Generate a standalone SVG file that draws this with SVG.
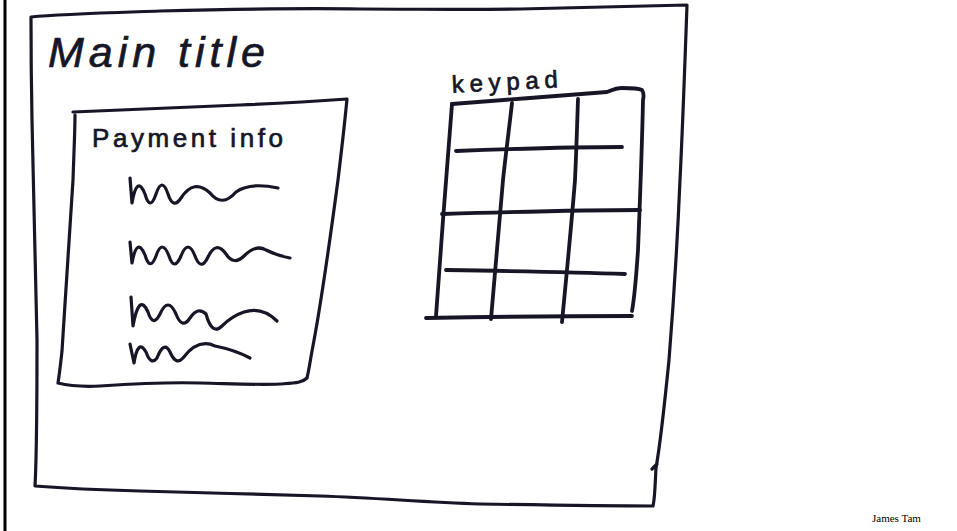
<svg xmlns="http://www.w3.org/2000/svg" width="957" height="531" viewBox="0 0 957 531">
<style>
.ink{fill:none;stroke:#161627;stroke-width:3.2;stroke-linecap:round;stroke-linejoin:round}
.thick{stroke-width:3.8}
.hand{font-family:"Liberation Sans","DejaVu Sans",sans-serif;fill:#161627;stroke:#161627;stroke-width:0.7}
.foot{font-family:"Liberation Serif","Times New Roman",serif;font-size:11px;fill:#000}
</style>
<rect x="0" y="0" width="957" height="531" fill="#fff"/>
<g id="slide-border">
<rect x="3.5" y="0" width="3" height="531" fill="#000"/>
</g>
<g id="main-window">
<path class="ink" d="M31,17 C60,14 100,13 160,11 C240,9 300,8 360,9 C420,9 460,10 520,9 C580,8 640,6 687,5 C685,60 683,120 680,180 C677,250 673,310 669,360 C665,400 661,440 656,468 M652,469 L657,464 M656,468 C655,485 655,498 653,506 C600,506 540,505 480,504 C420,502 380,498 320,496 C260,494 200,493 140,491 C100,490 60,488 35,486 C37,450 37,400 37,340 C36,280 34,200 32,120 C31,70 31,40 31,17"/>
</g>
<g id="title">
<text class="hand" x="48" y="67" font-size="43" font-style="italic" textLength="217" lengthAdjust="spacing">Main title</text>
</g>
<g id="payment-panel">
<path class="ink" d="M73,112 C120,110 180,107 240,105 C290,103 320,101 347,99 C344,130 341,155 338,180 C330,240 322,300 312,351 C310,362 309,370 307,378 C302,383 295,383 280,384 C260,385 240,384 200,383 C170,382 130,384 100,386 C80,387 70,386 58,383 C60,370 61,360 62,351 C66,290 70,220 73,180 C74,150 75,130 75,115"/>
<text class="hand" x="92" y="147" font-size="26" textLength="191" lengthAdjust="spacing">Payment info</text>
<path class="ink" d="M130,178 L132,203 Q137,174 145,194 Q150,212 156,194 Q162,176 168,194 Q173,210 181,198 Q194,178 210,193 Q222,208 236,192 Q250,182 278,188"/>
<path class="ink" d="M130,242 L132,263 Q137,236 145,255 Q150,272 156,256 Q162,238 169,256 Q174,272 181,256 Q188,238 195,256 Q201,272 208,257 Q216,240 226,254 Q234,266 244,256 Q256,244 266,250 Q278,256 290,258"/>
<path class="ink" d="M131,297 L133,326 Q139,292 148,312 Q153,328 160,314 Q168,296 176,314 Q182,330 190,318 Q198,306 206,314 Q212,336 222,326 Q232,316 244,312 Q262,306 277,321"/>
<path class="ink" d="M130,344 L134,363 Q138,338 146,352 Q151,366 157,358 Q164,340 170,352 Q176,366 183,358 Q198,338 215,346 Q235,350 250,358"/>
</g>
<g id="keypad">
<text class="hand" x="452" y="90" font-size="24" textLength="106" lengthAdjust="spacing" transform="rotate(-3 505 85)">keypad</text>
<path class="ink thick" d="M452,104 C500,100 560,96 607,92 C612,90 616,88 622,88 C630,88 638,88 642,90 C644,93 644,96 643,100 C642,150 640,200 638,250 C636,280 634,300 632,311"/>
<path class="ink thick" d="M452,104 C449,140 446,180 443,220 C440,260 438,290 436,316"/>
<path class="ink thick" d="M426,318 C480,317 560,316 632,316"/>
<path class="ink thick" d="M456,151 C510,149 570,147 622,147"/>
<path class="ink thick" d="M442,214 C510,212 580,210 640,210"/>
<path class="ink thick" d="M446,270 C510,271 570,272 625,274"/>
<path class="ink thick" d="M512,103 C509,130 505,160 503,180 C499,230 494,280 491,319"/>
<path class="ink thick" d="M578,99 C577,130 576,160 575,180 C571,230 566,280 562,322"/>
</g>
<g id="footer">
<text class="foot" x="872" y="522">James Tam</text>
</g>
</svg>
